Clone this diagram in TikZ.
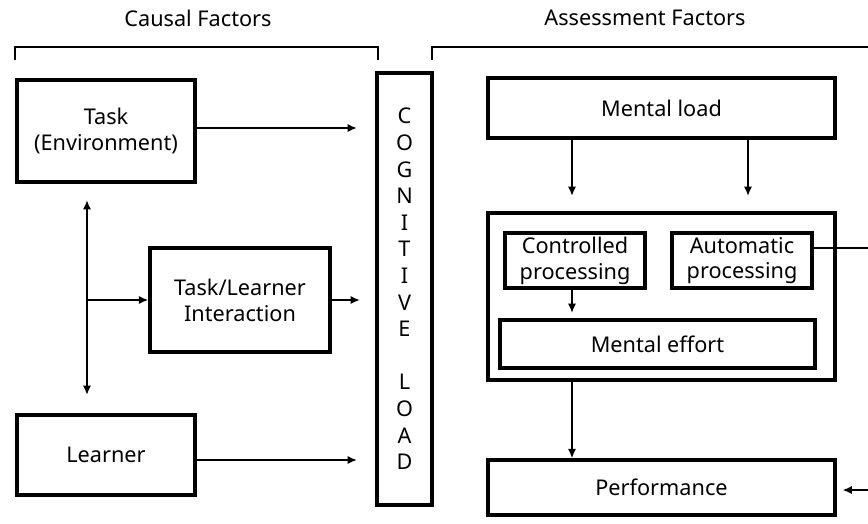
\documentclass[tikz,border=0pt]{standalone}
\usepackage{fontspec}
\setmainfont{Noto Sans}
\usetikzlibrary{arrows.meta}

\tikzset{
	box/.style={draw=black, line width=2.8pt, align=center, inner sep=2pt},
	arr/.style={-{Latex[length=8pt,width=7pt]}, line width=2.4pt},
	brack/.style={line width=2.4pt},
}

\begin{document}
\begin{tikzpicture}[x=0.03cm, y=-0.03cm, font=\fontsize{18.5}{22}\selectfont]
	\useasboundingbox (0,0) rectangle (868,523);

	% headings and brackets
	\node (causal) at (198,18) {Causal Factors};
	\node (assess) at (645,18) {Assessment Factors};
	\draw[brack] (15,60) -- (15,47) -- (378,47) -- (378,60);
	\draw[brack] (432,60) -- (432,47) -- (890,47);

	% causal factors
	\node[box, minimum width=5.34cm, minimum height=3.06cm] (task) at (106,131) {Task\\(Environment)};
	\node[box, minimum width=5.4cm, minimum height=3.12cm] (inter) at (240,300) {Task/Learner\\Interaction};
	\node[box, minimum width=5.34cm, minimum height=2.4cm] (learner) at (106,455) {Learner};

	% cognitive load
	\node[box, minimum width=1.65cm, minimum height=12.96cm, inner sep=0pt,
		font=\fontsize{18.5}{22.7}\selectfont] (cog) at (404.5,289)
		{C\\O\\G\\N\\I\\T\\I\\V\\E\\[22.7pt]L\\O\\A\\D};

	\coordinate (up) at (87,200);
	\coordinate (down) at (87,395);
	\coordinate (mid) at (87,300);

	\draw[arr] (task.east |- 0,128) -- (357,128);
	\draw[arr] (inter.east) -- (360,300);
	\draw[arr] (learner.east |- 0,460) -- (357,460);
	\draw[arr, {Latex[length=8pt,width=7pt]}-{Latex[length=8pt,width=7pt]}] (up) -- (down);
	\draw[arr] (mid) -- (inter.west);

	% assessment factors
	\node[box, minimum width=10.41cm, minimum height=1.8cm] (mload) at (661.5,108) {Mental load};
	\node[box, minimum width=10.41cm, minimum height=5.01cm] (proc) at (661.5,296.5) {};
	\node[box, minimum width=4.2cm, minimum height=1.65cm] (ctrl) at (575,260.5) {Controlled\\processing};
	\node[box, minimum width=4.2cm, minimum height=1.65cm] (auto) at (742,260.5) {Automatic\\processing};
	\node[box, minimum width=9.45cm, minimum height=1.44cm] (effort) at (657.5,344) {Mental effort};
	\node[box, minimum width=10.41cm, minimum height=1.65cm] (perf) at (661.5,487.5) {Performance};

	\draw[arr] (mload.south -| 572,0) -- (572,196);
	\draw[arr] (mload.south -| 748,0) -- (748,196);
	\draw[arr] (ctrl.south -| 572,0) -- (572,313);
	\draw[arr] (proc.south -| 572,0) -- (perf.north -| 572,0);
	\draw[arr, shorten >=5pt] (auto.east |- 0,248) -- (890,248) -- (890,490) -- (perf.east |- 0,490);
\end{tikzpicture}
\end{document}
